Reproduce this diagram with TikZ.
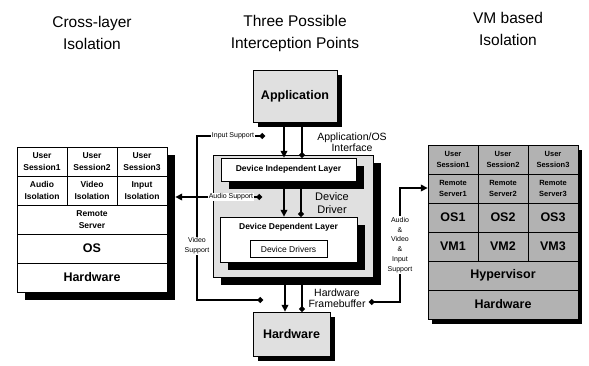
\documentclass[tikz,border=0pt]{standalone}
\usepackage{fontspec}
\setmainfont{Liberation Sans}
\usetikzlibrary{arrows.meta,shadows}

\begin{document}
\begin{tikzpicture}[x=1pt,y=-1pt,
  title/.style={font=\fontsize{15.5}{22}\selectfont, align=center, inner sep=0pt},
  note/.style={font=\fontsize{7}{9.8}\selectfont, align=center, fill=white, inner sep=1pt},
  bignote/.style={font=\fontsize{10.5}{10.5}\selectfont, align=center, inner sep=0pt},
  block/.style={draw=black, thin, fill=stipple light, inner sep=0pt, font=\bfseries\fontsize{12.5}{14}\selectfont,
    general shadow={fill=black, shadow xshift=5pt, shadow yshift=-5pt}},
  layer/.style={draw=black, thin, fill=white, inner sep=0pt, font=\bfseries\fontsize{8.5}{10}\selectfont,
    general shadow={fill=black, shadow xshift=8pt, shadow yshift=-8pt}},
  cell/.style={draw=black, thin, inner sep=0pt, minimum width=50pt, minimum height=29pt, align=center,
    font=\bfseries\fontsize{8.5}{12}\selectfont},
  widecell/.style={cell, minimum width=150pt},
  bigtext/.style={font=\bfseries\fontsize{12.5}{14}\selectfont},
  wire/.style={line width=1.8pt},
  sig/.style={wire, -{Triangle[length=7pt,width=6.5pt]}},
  tap/.style={wire, -{Circle[length=5.5pt]}}]
\definecolor{stipple light}{gray}{0.88}
\definecolor{stipple dark}{gray}{0.70}
\useasboundingbox (0,0) rectangle (589,365);

% titles
\node[title] (tleft) at (92,33) {Cross-layer\\Isolation};
\node[title] (tmid) at (295,33) {Three Possible\\Interception Points};
\node[title] (tright) at (508,29) {VM based\\Isolation};

% left: cross-layer stack
\node[draw, thin, minimum width=150pt, minimum height=145pt,
  general shadow={fill=black, shadow xshift=8pt, shadow yshift=-8pt}, fill=white] (lstack) at (92,219.5) {};
\foreach \c/\us/\iso [count=\i] in {42/{User\\Session1}/{Audio\\Isolation},
    92/{User\\Session2}/{Video\\Isolation}, 142/{User\\Session3}/{Input\\Isolation}}{
  \node[cell] (lus\i) at (\c,161.5) {\us};
  \node[cell] (liso\i) at (\c,190.5) {\iso};
}
\node[widecell] (lrs) at (92,219.5) {Remote\\Server};
\node[widecell, bigtext] (los) at (92,248.5) {OS};
\node[widecell, bigtext] (lhw) at (92,277.5) {Hardware};

% right: VM stack
\node[draw, thin, minimum width=150pt, minimum height=174pt, fill=stipple dark,
  general shadow={fill=black, shadow xshift=4pt, shadow yshift=-5pt}] (rstack) at (503,232) {};
\foreach \c [count=\i] in {453,503,553}{
  \node[cell, fill=stipple dark, font=\bfseries\fontsize{7.5}{11}\selectfont] (rus\i) at (\c,159.5) {User\\Session\i};
  \node[cell, fill=stipple dark, font=\bfseries\fontsize{7.5}{11}\selectfont] (rrs\i) at (\c,188.5) {Remote\\Server\i};
  \node[cell, fill=stipple dark, bigtext] (ros\i) at (\c,217.5) {OS\i};
  \node[cell, fill=stipple dark, bigtext] (rvm\i) at (\c,246.5) {VM\i};
}
\node[widecell, fill=stipple dark, bigtext] (rhyp) at (503,275.5) {Hypervisor};
\node[widecell, fill=stipple dark, bigtext] (rhw) at (503,304.5) {Hardware};

% middle: interception points
\node[block, minimum width=84pt, minimum height=52pt] (app) at (295,96) {Application};
\node[block, minimum width=77pt, minimum height=44pt] (hw) at (291.5,334) {Hardware};
\node[draw, thin, fill=stipple light, minimum width=160pt, minimum height=122pt,
  general shadow={fill=black, shadow xshift=8pt, shadow yshift=-8pt}] (drv) at (293,216) {};
\node[layer, minimum width=135pt, minimum height=23pt] (dil) at (288.5,169.5) {Device Independent Layer};
\node[layer, minimum width=137pt, minimum height=45pt] (ddl) at (288.5,239.5) {};
\node[inner sep=0pt, font=\bfseries\fontsize{8.5}{10}\selectfont] (ddltxt) at (288.5,227) {Device Dependent Layer};
\node[draw, thin, fill=white, inner sep=0pt, minimum width=77pt, minimum height=17pt,
  font=\fontsize{8.5}{10}\selectfont] (ddrv) at (288.5,249) {Device Drivers};

\node[bignote] (apios) at (352,142) {Application/OS\\Interface};
\node[bignote, font=\fontsize{11}{13}\selectfont] (drvlbl) at (332,203) {Device\\Driver};
\node[bignote] (hwfblbl) at (337,298) {Hardware\\Framebuffer};

\draw[sig] ([xshift=-11pt]app.south) -- ([xshift=-4.5pt]dil.north);
\draw[tap] ([xshift=7pt]app.south) -- ([xshift=13.5pt]dil.north);
\draw[sig] ([xshift=-4.5pt]dil.south) -- ([xshift=-4.5pt]ddl.north);
\draw[tap] ([xshift=12.5pt]dil.south) -- ([xshift=12.5pt]ddl.north);
\draw[sig] ([xshift=-8pt]drv.south) -- ([xshift=-6.5pt]hw.north);
\draw[tap] ([xshift=9pt]drv.south) -- ([xshift=10.5pt]hw.north);

% support paths
\coordinate (insup) at (265,136);
\coordinate (audsup) at (262,197);
\coordinate (vidsup) at (263,300);
\coordinate (hwfb) at (369,302);
\coordinate (vbus) at (197,197);
\coordinate (rbus) at (400,188);

\draw[wire, {Circle[length=5.5pt]}-{Circle[length=5.5pt]}] (insup) -- (insup -| vbus) -- (vidsup -| vbus) -- (vidsup);
\draw[wire, {Circle[length=5.5pt]}-{Triangle[length=7pt,width=6.5pt]}] (audsup) -- ([xshift=8pt]audsup -| lstack.east);
\draw[wire, {Circle[length=5.5pt]}-{Triangle[length=7pt,width=6.5pt]}] (hwfb) -- (hwfb -| rbus) -- (rbus) -- (rbus -| rstack.west);

\node[note] (insuplbl) at (233,136) {Input Support};
\node[note] (audsuplbl) at (231,197) {Audio Support};
\node[note] (vidsuplbl) at (197,246) {Video\\Support};
\node[note] (avilbl) at (400,245) {Audio\\\&\\Video\\\&\\Input\\Support};

\end{tikzpicture}
\end{document}
